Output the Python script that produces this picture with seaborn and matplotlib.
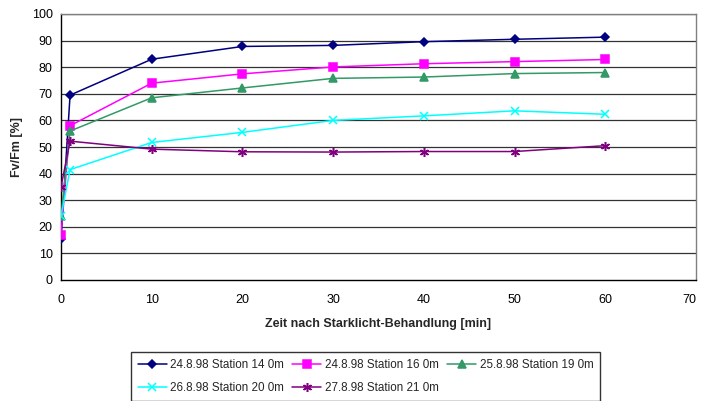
import matplotlib
matplotlib.use("Agg")
import matplotlib.pyplot as plt
import seaborn as sns
import pandas as pd

times = [0, 1, 10, 20, 30, 40, 50, 60]
series_names = ["24.8.98 Station 14 0m", "24.8.98 Station 16 0m", "25.8.98 Station 19 0m",
                "26.8.98 Station 20 0m", "27.8.98 Station 21 0m"]
st14 = [15.5, 69.5, 83.0, 87.8, 88.2, 89.6, 90.5, 91.3]
st16 = [17.0, 58.0, 74.0, 77.5, 80.1, 81.3, 82.1, 82.9]
st19 = [24.0, 56.0, 68.5, 72.2, 75.8, 76.3, 77.6, 78.0]
st20 = [24.0, 41.5, 51.7, 55.5, 60.0, 61.7, 63.6, 62.3]
st21 = [35.0, 52.2, 49.2, 48.2, 48.1, 48.3, 48.3, 50.5]
values = [st14, st16, st19, st20, st21]

colors = ["#000080", "#FF00FF", "#339966", "#00FFFF", "#800080"]
markers = ["D", "s", "^", "x", (6, 2, 0)]
msizes = [4.5, 5.5, 5.5, 6, 6.5]

rows = []
for name, vals in zip(series_names, values):
    for t, v in zip(times, vals):
        rows.append({"Zeit": t, "Fv/Fm": v, "Serie": name})
df = pd.DataFrame(rows)

sns.set_style("white")
plt.rcParams["font.family"] = ["Liberation Sans", "DejaVu Sans"]

fig = plt.figure(figsize=(7.02, 4.01), dpi=100)
ax = fig.add_axes([61/702, 1-280/401, (696-61)/702, (280-14)/401])

for y in range(10, 101, 10):
    ax.axhline(y, color="#333333", lw=0.9, zorder=0)

for i, name in enumerate(series_names):
    sub = df[df["Serie"] == name]
    sns.lineplot(data=sub, x="Zeit", y="Fv/Fm", ax=ax, color=colors[i], marker=markers[i],
                 markersize=msizes[i], markeredgecolor=colors[i], markeredgewidth=1.1,
                 linewidth=1.1, label=name, legend=False, zorder=3)
handles = ax.get_lines()[10:]

ax.set_xlim(0, 70)
ax.set_ylim(0, 100)
ax.set_xticks(range(0, 71, 10))
ax.set_yticks(range(0, 101, 10))
ax.tick_params(axis="both", labelsize=9, direction="out", length=4, width=0.8, colors="black", pad=2)
ax.tick_params(axis="x", pad=6)
xl = ax.get_xticklabels()
xl[-1].set_horizontalalignment("right")
for side in ["top", "right"]:
    ax.spines[side].set_color("#808080")
    ax.spines[side].set_linewidth(1)
for side in ["left", "bottom"]:
    ax.spines[side].set_color("black")
    ax.spines[side].set_linewidth(1)
ax.set_xlabel("Zeit nach Starklicht-Behandlung [min]", fontsize=9, fontweight="bold", labelpad=9)
ax.set_ylabel("Fv/Fm [%]", fontsize=9, fontweight="bold", labelpad=6)

order = [0, 3, 1, 4, 2]
leg = fig.legend([handles[i] for i in order], [series_names[i] for i in order],
                 loc="upper center", bbox_to_anchor=(365.5/702, 1-352/401), ncol=3,
                 fontsize=8.4, frameon=True, fancybox=False, edgecolor="black",
                 handlelength=2.5, columnspacing=0.7, handletextpad=0.3,
                 borderpad=0.6, labelspacing=0.95, borderaxespad=0)
leg.get_frame().set_linewidth(1)

fig.savefig("out.png", dpi=100)
